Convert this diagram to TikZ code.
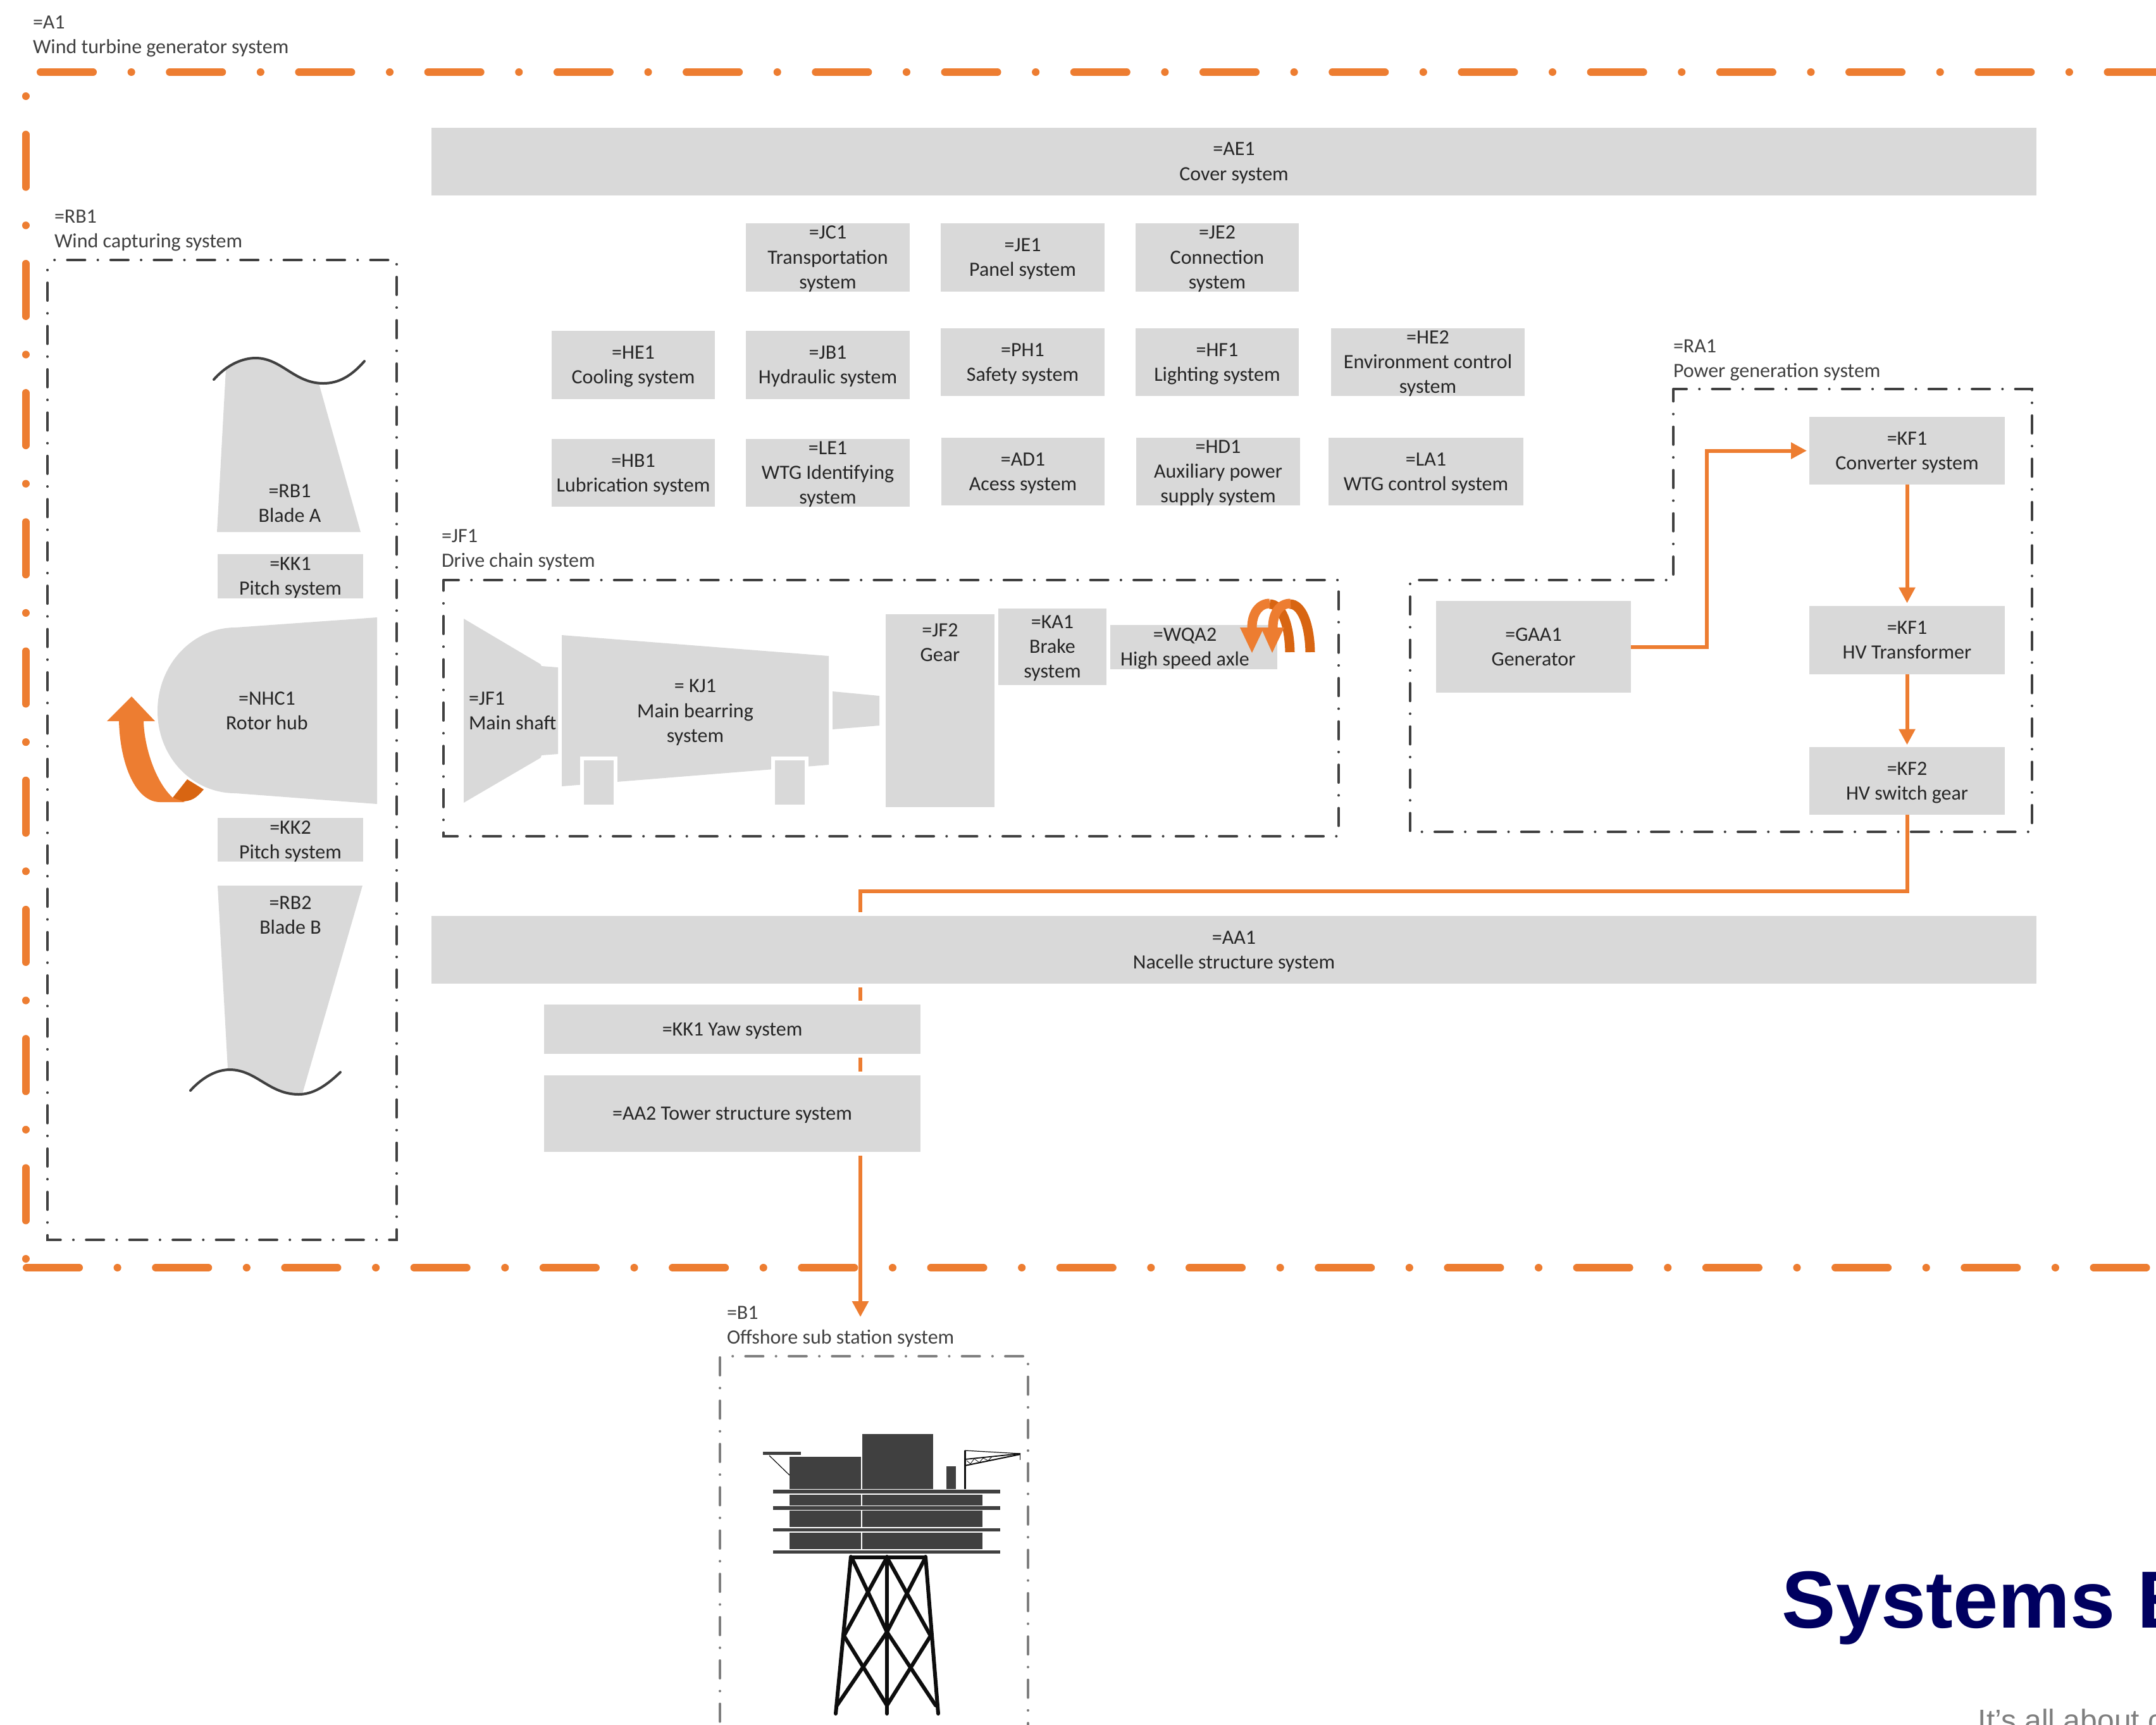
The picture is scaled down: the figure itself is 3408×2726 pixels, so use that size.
\documentclass[tikz,border=0pt]{standalone}
\usepackage{fontspec}
\setmainfont{Carlito}
\newfontfamily\arialfont{Liberation Sans}
\usetikzlibrary{arrows.meta,backgrounds}
\definecolor{oline}{HTML}{ED7D31}
\definecolor{odark}{HTML}{D86512}
\definecolor{gbox}{HTML}{D9D9D9}
\definecolor{dline}{HTML}{404040}
\definecolor{lgrey}{HTML}{7F7F7F}
\definecolor{txtc}{HTML}{262626}
\definecolor{jack}{HTML}{0D0D0D}
\definecolor{navy}{HTML}{000060}
\newcommand{\tl}[1]{\rule{0pt}{.28cm}#1\rule[-.08cm]{0pt}{0pt}}
\tikzset{
  plainbox/.style={fill=gbox,draw=none,inner sep=0pt,outer sep=0pt,align=center,text=txtc,font=\fontsize{9.1pt}{11.1pt}\selectfont},
  halobox/.style={plainbox,draw=white,line width=.06cm},
  boxlabel/.style={inner sep=0pt,outer sep=0pt,align=center,text=txtc,font=\fontsize{9.1pt}{11.1pt}\selectfont},
  grouplabel/.style={inner sep=0pt,outer sep=0pt,align=left,anchor=west,text=dline,font=\fontsize{9.1pt}{11.1pt}\selectfont},
  outerline/.style={draw=oline,line width=.12cm,line cap=round,dash pattern=on .83cm off .605cm on .001cm off .605cm},
  frameline/.style={draw=dline,line width=.04cm,line cap=round,dash pattern=on .28cm off .2015cm on .001cm off .2015cm},
  frameb/.style={frameline,draw=lgrey,line width=.04cm},
  conn/.style={draw=oline,line width=.06cm},
  connarrow/.style={conn,-{Triangle[length=.25cm,width=.25cm]}},
  jacket/.style={draw=jack,line width=.06cm,line cap=round},
  ribbonL/.style={draw=oline,line width=.15cm},
  ribbonD/.style={draw=odark,line width=.15cm},
}
\newcommand{\gboxn}[7][plainbox]{\node[#1,minimum width={(#5-#3)*0.01cm},minimum height={(#6-#4)*0.01cm}] (#2) at ({(#3+#5)/2},{(#4+#6)/2}) {\tl{#7}};}
\newcommand{\gboxl}[6]{\node[plainbox,minimum width={(#4-#2)*0.01cm},minimum height={(#5-#3)*0.01cm}] (#1) at ({(#2+#4)/2},{(#3+#5)/2}) {};\node[boxlabel] (#1t) at (#1.center) {\tl{#6}};}
\begin{document}
\begin{tikzpicture}[x=0.01cm,y=-0.01cm]
\useasboundingbox (0,0) rectangle (3408,2726);
% group labels
\node[grouplabel] (lA1) at (52,55) {\tl{=A1\\Wind turbine generator system}};
\node[grouplabel] (lRB1) at (86,362) {\tl{=RB1\\Wind capturing system}};
\node[grouplabel] (lJF1) at (698,867) {\tl{=JF1\\Drive chain system}};
\node[grouplabel] (lRA1) at (2645,567) {\tl{=RA1\\Power generation system}};
\node[grouplabel] (lB1) at (1149,2095) {\tl{=B1\\Offshore sub station system}};
% top rows
\gboxn{ae1}{682}{202}{3219}{309}{=AE1\\Cover system}
\gboxl{jc1}{1179}{353}{1438}{461}{=JC1\\Transportation\\system}
\gboxn{je1}{1487}{353}{1746}{461}{=JE1\\Panel system}
\gboxl{je2}{1795}{353}{2053}{461}{=JE2\\Connection\\system}
\gboxn{he1}{872}{523}{1130}{631}{=HE1\\Cooling system}
\gboxn{jb1}{1179}{523}{1438}{631}{=JB1\\Hydraulic system}
\gboxn{ph1}{1487}{519}{1746}{626}{=PH1\\Safety system}
\gboxn{hf1}{1795}{519}{2053}{626}{=HF1\\Lighting system}
\gboxl{he2}{2104}{519}{2410}{626}{=HE2\\Environment control\\system}
\gboxn{hb1}{872}{694}{1130}{801}{=HB1\\Lubrication system}
\gboxl{le1}{1179}{694}{1438}{801}{=LE1\\WTG Identifying\\system}
\gboxn{ad1}{1488}{692}{1746}{799}{=AD1\\Acess system}
\gboxl{hd1}{1796}{692}{2055}{799}{=HD1\\Auxiliary power\\supply system}
\gboxn{la1}{2100}{692}{2408}{799}{=LA1\\WTG control system}
% wind capture
\fill[gbox] (357,584) .. controls (372,572) and (388,566) .. (404,566) .. controls (445,566) and (465,606) .. (504,606) -- (570,841) -- (343,841) -- cycle;
\draw[dline,line width=.04cm,line cap=round] (338,600) .. controls (360,575) and (385,566) .. (404,566) .. controls (445,566) and (465,606) .. (511,606) .. controls (535,606) and (555,595) .. (576,571);
\node[boxlabel] (tRB1) at (458,796) {\tl{=RB1\\Blade A}};
\gboxl{kk1}{344}{876}{574}{946}{=KK1\\Pitch system}
\fill[gbox] (596,976) -- (372,992) .. controls (304,992) and (249,1051) .. (249,1124) .. controls (249,1197) and (304,1254) .. (372,1254) -- (596,1271) -- cycle;
\node[boxlabel] (tNHC) at (422,1124) {\tl{=NHC1\\Rotor hub}};
\fill[odark] (273,1261) -- (296,1232) -- (322,1248) .. controls (310,1262) and (303,1267) .. (285,1267) -- cycle;
\fill[oline] (208,1101) -- (245,1140) -- (227,1140) .. controls (228,1180) and (245,1235) .. (273,1261) -- (292,1268) -- (253,1268) .. controls (215,1268) and (190,1210) .. (188,1140) -- (169,1140) -- cycle;
\gboxl{kk2}{344}{1293}{574}{1362}{=KK2\\Pitch system}
\fill[gbox] (344,1400) -- (573,1400) -- (478,1729) .. controls (425,1730) and (405,1691) .. (363,1691) -- (360,1689) -- cycle;
\draw[dline,line width=.04cm,line cap=round] (301,1724) .. controls (320,1703) and (342,1691) .. (363,1691) .. controls (405,1691) and (425,1730) .. (472,1730) .. controls (495,1730) and (515,1717) .. (538,1695);
\node[boxlabel] (tRB2) at (459,1447) {\tl{=RB2\\Blade B}};
% drive chain
\fill[gbox] (733,978) -- (854.5,1050) -- (856,1053) -- (882,1055) -- (882,1192) -- (856,1194) -- (854.5,1198) -- (733,1269) -- cycle;
\node[boxlabel,align=left,anchor=west] (tJF1) at (741,1124) {\tl{=JF1\\Main shaft}};
\fill[gbox] (888,1004) -- (1310,1037) -- (1310,1209) -- (888,1243) -- cycle;
\fill[white] (917,1196) rectangle (976,1275);
\fill[white] (1219,1196) rectangle (1278,1275);
\fill[gbox] (923,1202) rectangle (970,1272);
\fill[gbox] (1225,1202) rectangle (1272,1272);
\node[boxlabel] (tKJ1) at (1099,1124) {\tl{= KJ1\\Main bearring\\system}};
\fill[gbox] (1316,1093) -- (1390,1100) -- (1390,1147) -- (1316,1153) -- cycle;
\gboxn{jf2box}{1400}{971}{1572}{1276}{}
\node[boxlabel] (tJF2) at (1486,1016) {\tl{=JF2\\Gear}};
\gboxl{ka1}{1578}{962}{1749}{1083}{=KA1\\Brake\\system}
\gboxn{wqa2}{1755}{988}{2019}{1058}{}
\node[boxlabel] (tWQA2) at (1873,1023) {\tl{=WQA2\\High speed axle}};
% rotation arrows on the axle
\draw[ribbonD] (2007,955) .. controls (2025,955) and (2038,985) .. (2039,1031);
\draw[ribbonD] (2039,955) .. controls (2057,955) and (2070,985) .. (2071,1031);
\draw[ribbonL] (1979,992) .. controls (1979,970) and (1990,954) .. (2007,954);
\fill[oline] (1960,992) -- (1998,992) -- (1979,1032) -- cycle;
\draw[ribbonL] (2012,992) .. controls (2012,970) and (2022,954) .. (2040,954);
\fill[oline] (1993,992) -- (2030,992) -- (2011,1032) -- cycle;
% power generation
\gboxn{gaa1}{2270}{950}{2578}{1095}{=GAA1\\Generator}
\gboxn{kf1c}{2860}{659}{3169}{766}{=KF1\\Converter system}
\gboxn{kf1t}{2860}{958}{3169}{1066}{=KF1\\HV Transformer}
\gboxn{kf2}{2860}{1181}{3169}{1288}{=KF2\\HV switch gear}
% nacelle, yaw, tower
\gboxn[halobox]{aa1}{679}{1445}{3222}{1558}{=AA1\\Nacelle structure system}
\gboxn[halobox]{kk1y}{857}{1585}{1458}{1669}{=KK1 Yaw system}
\gboxn[halobox]{aa2}{857}{1697}{1458}{1824}{=AA2 Tower structure system}
% offshore platform
\fill[dline] (1362.5,2267) rectangle (1475,2354);
\fill[dline] (1248,2303) rectangle (1361,2354);
\fill[dline] (1496,2318) rectangle (1511,2354);
\fill[dline] (1206,2295) rectangle (1266,2300);
\draw[jack,line width=.012cm] (1216,2301) -- (1248,2332);
\foreach \ya/\yb in {2355/2361,2381/2387,2416/2421,2451/2456}{\fill[dline] (1222,\ya) rectangle (1581,\yb);}
\foreach \ya/\yb in {2363/2380,2388/2414,2423/2449}{\fill[dline] (1248,\ya) rectangle (1361,\yb);\fill[dline] (1362.5,\ya) rectangle (1552.5,\yb);}
\draw[jack,line width=.03cm] (1525,2293) -- (1525,2354);
\draw[jack,line width=.012cm] (1525,2293) -- (1613,2298);
\draw[jack,line width=.018cm] (1525,2307) -- (1613,2298);
\draw[jack,line width=.02cm] (1525,2317) -- (1613,2299);
\draw[jack,line width=.008cm] (1612,2298) -- (1612,2308);
\draw[jack,line width=.008cm] (1528,2309) -- (1534,2314) -- (1540,2306) -- (1548,2312) -- (1554,2305) -- (1562,2309) -- (1568,2303);
\draw[jacket] (1345,2461) -- (1321,2709);
\draw[jacket] (1463,2461) -- (1483,2709);
\draw[jacket] (1402,2461) -- (1402,2709);
\draw[jacket] (1345,2462) -- (1463,2462);
\draw[jacket] (1346,2462) -- (1402,2580) -- (1479,2696);
\draw[jacket] (1463,2462) -- (1402,2580) -- (1323,2696);
\draw[jacket] (1402,2462) -- (1334,2586) -- (1402,2696);
\draw[jacket] (1402,2462) -- (1471,2586) -- (1402,2696);
% title
\node[anchor=base west,inner sep=0pt,text=navy,font=\arialfont\bfseries\fontsize{36.42pt}{40pt}\selectfont] (title) at (2816,2573) {Systems E};
\node[anchor=base west,inner sep=0pt,text=lgrey,font=\arialfont\fontsize{13.66pt}{16pt}\selectfont] (subt) at (3126,2736) {It’s all about c};
% frames and connectors below the boxes
\coordinate (jn) at (1360,1409);
\coordinate (b1in) at (1360,2082);
\begin{scope}[on background layer]
\draw[outerline] (64,114) -- (3420,114);
\draw[outerline,dash phase=1.435cm] (40.6,152) -- (40.6,1996);
\draw[outerline] (42,2004) -- (3420,2004);
\draw[frameline,dash phase=.37cm] (75,411) -- (627,411) -- (627,1960) -- (75,1960) -- cycle;
\draw[frameline,dash phase=.04cm] (701,917) -- (2116,917) -- (2116,1322) -- (701,1322) -- cycle;
\draw[frameline,dash phase=.07cm] (2645,615) -- (3212,615) -- (3212,1315) -- (2229,1315) -- (2229,917) -- (2645,917) -- cycle;
\draw[frameb,dash phase=.28cm] (1138,2144) -- (1625,2144) -- (1625,2800);
\draw[frameb] (1138,2146) -- (1138,2800);
\draw[connarrow,shorten >=.04cm] (gaa1.east) -- ++(120,0) |- (kf1c.west);
\draw[connarrow,shorten >=.045cm] (kf1c.south) -- (kf1t.north);
\draw[connarrow,shorten >=.035cm] (kf1t.south) -- (kf2.north);
\draw[connarrow] (kf2.south) |- (jn) -- (b1in);
\end{scope}
\end{tikzpicture}
\end{document}
